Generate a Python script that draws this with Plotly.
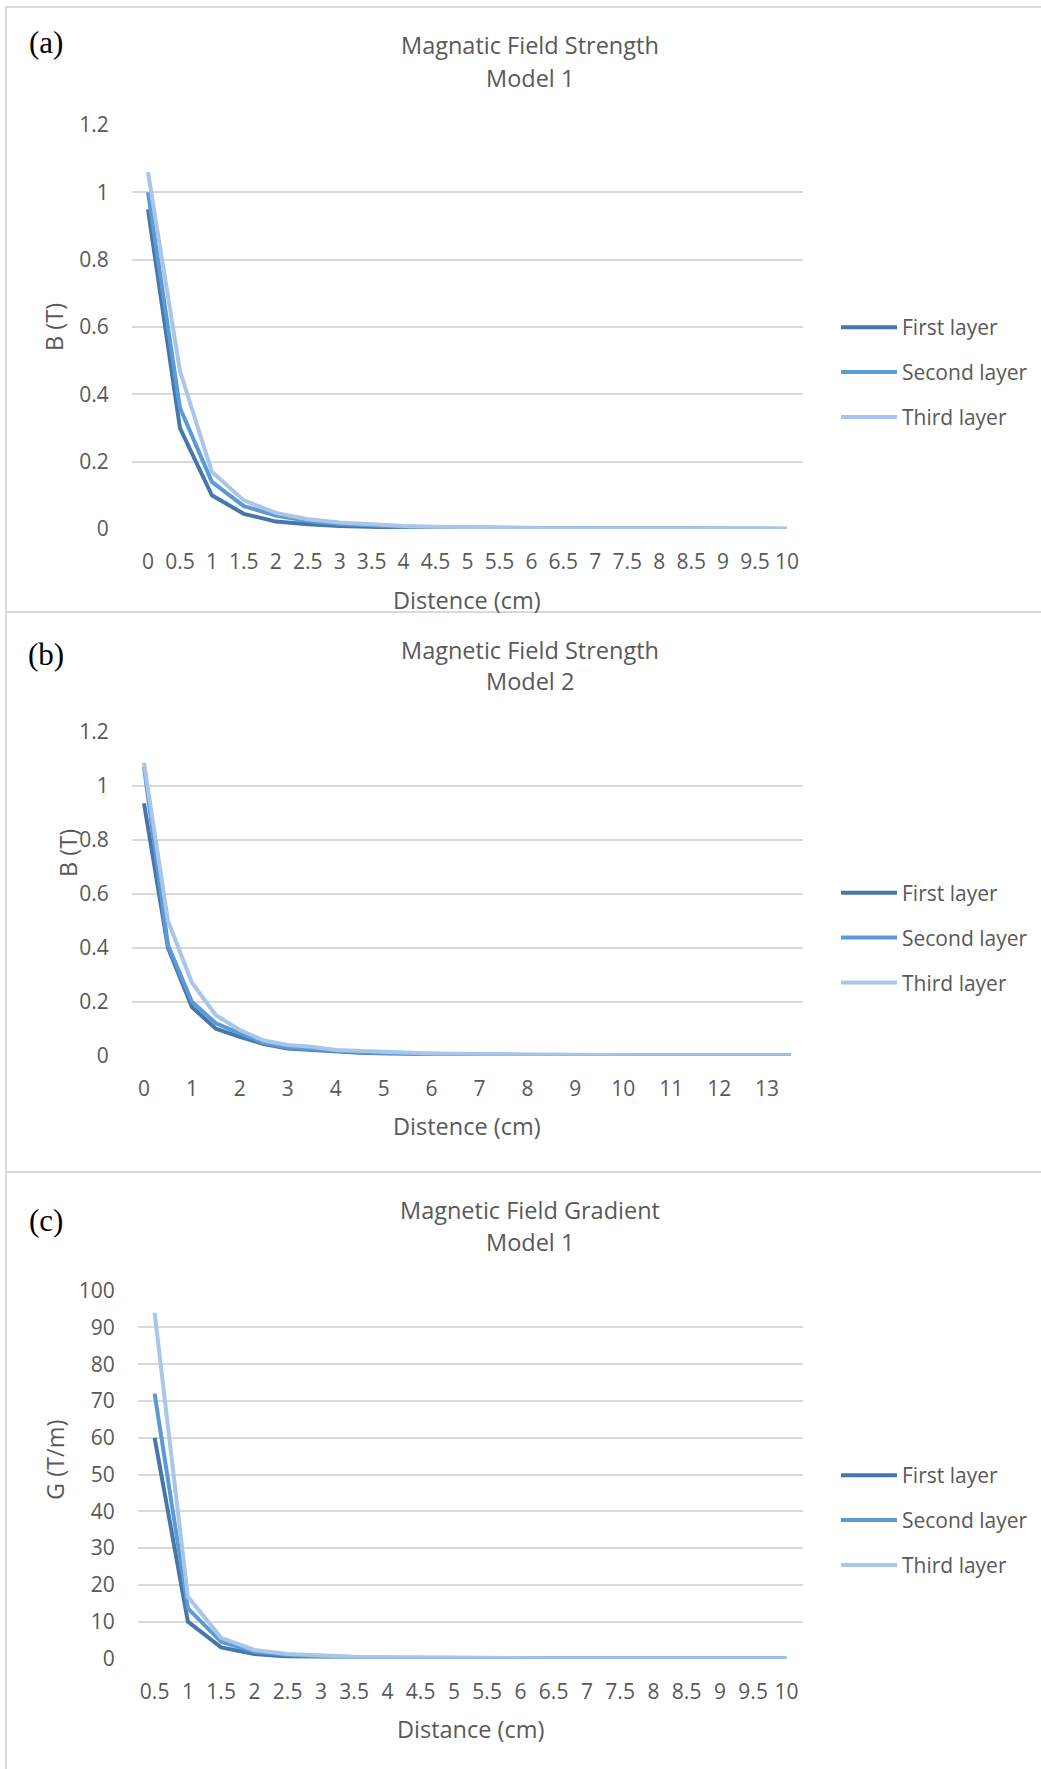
import plotly.graph_objects as go

W, H = 1041, 1769

# ---------------- data ----------------
dist_a = ["0", "0.5", "1", "1.5", "2", "2.5", "3", "3.5", "4", "4.5", "5",
          "5.5", "6", "6.5", "7", "7.5", "8", "8.5", "9", "9.5", "10"]
first_a = [0.95, 0.30, 0.10, 0.045, 0.022, 0.014, 0.009, 0.006, 0.004, 0.003, 0.0025,
           0.002, 0.0015, 0.0012, 0.001, 0.0008, 0.0007, 0.0006, 0.0005, 0.0004, 0.0003]
second_a = [1.00, 0.36, 0.14, 0.068, 0.040, 0.024, 0.015, 0.010, 0.007, 0.005, 0.004,
            0.003, 0.0025, 0.002, 0.0016, 0.0013, 0.0011, 0.0009, 0.0008, 0.0007, 0.0006]
third_a = [1.06, 0.47, 0.17, 0.085, 0.048, 0.029, 0.019, 0.013, 0.009, 0.007, 0.005,
           0.004, 0.003, 0.0025, 0.002, 0.0017, 0.0014, 0.0012, 0.001, 0.0009, 0.0008]

dist_b = [0, 0.5, 1, 1.5, 2, 2.5, 3, 3.5, 4, 4.5, 5, 5.5, 6, 6.5, 7, 7.5, 8, 8.5,
          9, 9.5, 10, 10.5, 11, 11.5, 12, 12.5, 13, 13.5]
ticks_b = [0, 1, 2, 3, 4, 5, 6, 7, 8, 9, 10, 11, 12, 13]
first_b = [0.935, 0.40, 0.18, 0.10, 0.070, 0.043, 0.027, 0.021, 0.015, 0.011, 0.008, 0.006,
           0.005, 0.004, 0.003, 0.0025, 0.002, 0.0018, 0.0015, 0.0013, 0.0011, 0.001,
           0.0009, 0.0008, 0.0007, 0.0006, 0.0005, 0.0005]
second_b = [1.07, 0.41, 0.20, 0.12, 0.083, 0.047, 0.030, 0.024, 0.017, 0.013, 0.010, 0.008,
            0.006, 0.005, 0.004, 0.0033, 0.0028, 0.0024, 0.002, 0.0018, 0.0015, 0.0013,
            0.0012, 0.001, 0.0009, 0.0008, 0.0007, 0.0007]
third_b = [1.085, 0.50, 0.27, 0.15, 0.095, 0.056, 0.040, 0.033, 0.021, 0.017, 0.013, 0.010,
           0.008, 0.007, 0.006, 0.005, 0.004, 0.0035, 0.003, 0.0027, 0.0024, 0.002,
           0.0018, 0.0016, 0.0014, 0.0012, 0.001, 0.001]

dist_c = ["0.5", "1", "1.5", "2", "2.5", "3", "3.5", "4", "4.5", "5",
          "5.5", "6", "6.5", "7", "7.5", "8", "8.5", "9", "9.5", "10"]
first_c = [60, 10, 3.0, 1.2, 0.5, 0.3, 0.2, 0.12, 0.08, 0.05, 0.04, 0.03, 0.02, 0.015,
           0.012, 0.01, 0.008, 0.006, 0.005, 0.004]
second_c = [72, 13.6, 4.5, 1.8, 0.9, 0.5, 0.3, 0.2, 0.13, 0.09, 0.06, 0.05, 0.04, 0.03,
            0.02, 0.015, 0.012, 0.01, 0.008, 0.006]
third_c = [94, 16.8, 5.6, 2.3, 1.2, 0.7, 0.45, 0.3, 0.2, 0.14, 0.1, 0.07, 0.05, 0.04,
           0.03, 0.025, 0.02, 0.015, 0.012, 0.01]

series_names = ["First layer", "Second layer", "Third layer"]
colors = ["#4576AC", "#5B9BD5", "#A9C5E8"]

# ---------------- helpers ----------------
def px_x(x):
    return x / W

def px_y(y):
    return 1 - y / H

FONT = "Open Sans"
GRAY = "#595959"
GRID = "#D9D9D9"
FS = 21
TFS = 23.5

fig = go.Figure()

panels = [
    (dist_a, [first_a, second_a, third_a], "x", "y", "legend"),
    (dist_b, [first_b, second_b, third_b], "x2", "y2", "legend2"),
    (dist_c, [first_c, second_c, third_c], "x3", "y3", "legend3"),
]
for pi, (xs, ys_list, xa, ya, lg) in enumerate(panels):
    for si, ys in enumerate(ys_list):
        fig.add_trace(go.Scatter(
            x=xs, y=ys, mode="lines", name=series_names[si],
            line=dict(color=colors[si], width=4),
            xaxis=xa, yaxis=ya, legend=lg,
            legendgroup=f"p{pi}s{si}", showlegend=True,
        ))

tickfont = dict(family=FONT, size=FS, color=GRAY)

common_x = dict(showgrid=False, zeroline=False, showline=False, ticks="outside",
                ticklen=14, tickcolor="rgba(0,0,0,0)", tickfont=tickfont, tickangle=0,
                automargin=False)
common_y = dict(showgrid=True, gridcolor=GRID, gridwidth=1.5, zeroline=False,
                showline=False, ticks="outside", ticklen=18,
                tickcolor="rgba(0,0,0,0)", tickfont=tickfont, automargin=False)

fig.update_layout(
    width=W, height=H, margin=dict(l=0, r=0, t=0, b=0, pad=0, autoexpand=False),
    paper_bgcolor="white", plot_bgcolor="white",
    xaxis=dict(domain=[px_x(132), px_x(803)], anchor="y", type="category",
               range=[-0.5, len(dist_a) - 0.5], **common_x),
    yaxis=dict(domain=[px_y(529), px_y(125)], anchor="x", range=[0, 1.2],
               dtick=0.2, **common_y),
    xaxis2=dict(domain=[px_x(132), px_x(803)], anchor="y2", type="linear",
                range=[-0.25, 13.75], tickvals=ticks_b,
                ticktext=[str(t) for t in ticks_b], **common_x),
    yaxis2=dict(domain=[px_y(1055.7), px_y(731.7)], anchor="x2", range=[0, 1.2],
                dtick=0.2, **common_y),
    xaxis3=dict(domain=[px_x(138), px_x(803)], anchor="y3", type="category",
                range=[-0.5, len(dist_c) - 0.5], **common_x),
    yaxis3=dict(domain=[px_y(1658.4), px_y(1290.7)], anchor="x3", range=[0, 100],
                dtick=10, **common_y),
    showlegend=True,
)

legend_common = dict(xanchor="left", yanchor="top", bgcolor="rgba(0,0,0,0)",
                     font=dict(family=FONT, size=FS, color=GRAY),
                     tracegroupgap=14.6, itemwidth=56, traceorder="grouped")
fig.update_layout(
    legend=dict(x=px_x(836), y=px_y(307), **legend_common),
    legend2=dict(x=px_x(836), y=px_y(872.5), **legend_common),
    legend3=dict(x=px_x(836), y=px_y(1455), **legend_common),
)

# panel borders
for (y0, y1) in [(7, 612), (612, 1172), (1172, 1775)]:
    fig.add_shape(type="rect", xref="paper", yref="paper",
                  x0=px_x(6), x1=px_x(1045), y0=px_y(y1), y1=px_y(y0),
                  line=dict(color=GRID, width=2), fillcolor="rgba(0,0,0,0)", layer="below")

def ann(text, x, y, size=TFS, color=GRAY, family=FONT, angle=0):
    fig.add_annotation(text=text, x=px_x(x), y=px_y(y), xref="paper", yref="paper",
                       xanchor="center", yanchor="middle", showarrow=False,
                       textangle=angle, font=dict(family=family, size=size, color=color))

# panel letters
ann("(a)", 46, 42, size=31, color="black", family="Liberation Serif")
ann("(b)", 46, 654, size=31, color="black", family="Liberation Serif")
ann("(c)", 46, 1220, size=31, color="black", family="Liberation Serif")

# chart titles
ann("Magnatic Field Strength", 530, 45)
ann("Model 1", 530, 78)
ann("Magnetic Field Strength", 530, 650)
ann("Model 2", 530, 681)
ann("Magnetic Field Gradient", 530, 1210)
ann("Model 1", 530, 1242)

# axis titles
ann("B (T)", 54, 327, angle=-90)
ann("Distence (cm)", 467, 600)
ann("B (T)", 68, 853, angle=-90)
ann("Distence (cm)", 467, 1126)
ann("G (T/m)", 55, 1460, angle=-90)
ann("Distance (cm)", 470, 1729)

fig.write_html("out.html")
